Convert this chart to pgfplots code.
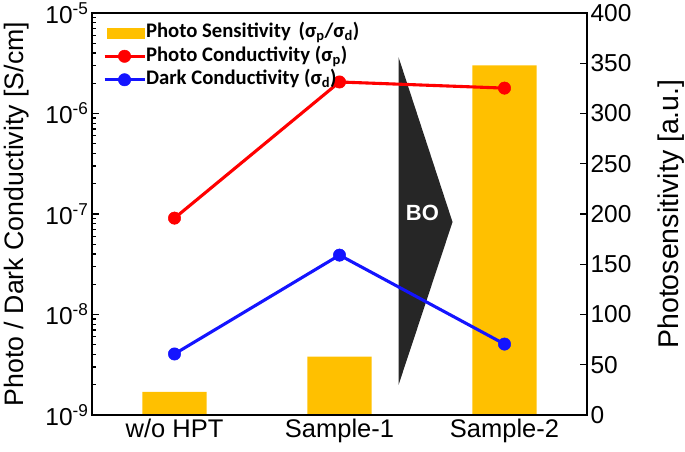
\documentclass[border=0pt]{standalone}
\usepackage{pgfplots}
\pgfplotsset{compat=1.18}
\usepackage{fontspec}
\setmainfont{Liberation Sans}
\newfontfamily\carlito{Carlito}
\definecolor{yellowc}{HTML}{FFC000}
\definecolor{redc}{HTML}{FF0000}
\definecolor{bluec}{HTML}{1414FF}
\definecolor{arrowc}{HTML}{262626}
\pgfplotsset{
  mylegline/.style={legend image code/.code={\draw[mark repeat=2,mark phase=2,##1] plot coordinates {(0pt,0pt) (20pt,0pt) (40pt,0pt)};}},
  common/.style={
    at={(0,0)}, anchor=south west,
    scale only axis, width=495pt, height=402pt,
    xmin=-0.5, xmax=2.5,
    axis line style={line width=1.8pt},
    every tick/.style={line width=1.3pt, black},
    major tick length=7pt, minor tick length=4.5pt,
    tick align=inside,
    tick label style={font=\fontsize{24.5}{28}\selectfont},
    /pgf/number format/assume math mode=true,
  }
}
\begin{document}
\begin{tikzpicture}
% bars on right (linear) axis
\begin{axis}[common,
  ymin=0, ymax=400,
  axis y line*=right,
  hide x axis,
  ytick={0,50,...,400},
  ylabel={Photosensitivity [a.u.]},
  ylabel style={at={(axis description cs:1.1697,0.5)}, anchor=center, inner sep=0pt, font=\fontsize{28.5}{32}\selectfont},
  clip=false,
]
\addplot[ybar, bar width=0.388, fill=yellowc, draw=none] coordinates {(0,23) (1,58) (2,348)};
\fill[arrowc] (axis cs:1.358,356) -- (axis cs:1.685,192) -- (axis cs:1.358,30) -- cycle;
\node[white, font=\bfseries\fontsize{22}{24}\selectfont] at (axis cs:1.503,201) {BO};
\end{axis}
% lines on left (log) axis
\begin{axis}[common,
  ymode=log, ymin=1e-9, ymax=1e-5,
  ytick={1e-9,1e-8,1e-7,1e-6,1e-5},
  yticklabels={10\textsuperscript{-9},10\textsuperscript{-8},10\textsuperscript{-7},10\textsuperscript{-6},10\textsuperscript{-5}},
  ytick pos=left,
  xtick={0,1,2},
  xticklabels={w/o HPT,Sample-1,Sample-2},
  xticklabel style={font=\fontsize{25.5}{28}\selectfont},
  xtick pos=bottom,
  major x tick style={draw=none},
  ylabel={Photo / Dark Conductivity [S/cm]},
  ylabel style={at={(axis description cs:-0.1515,0.5)}, anchor=center, inner sep=0pt, font=\fontsize{26.7}{30}\selectfont},
  legend cell align=left,
  legend style={draw=none, fill=none, at={(0,1)}, anchor=north west, xshift=11pt, yshift=-10pt,
    inner sep=0pt, outer sep=0pt,
    font=\carlito\bfseries\fontsize{20.7}{24}\selectfont, row sep=4pt,
    nodes={inner sep=0pt, text height=14.5pt, text depth=5pt},
    /tikz/every even column/.append style={column sep=5pt}},
]
\addlegendimage{legend image code/.code={\fill[yellowc] (3pt,-5pt) rectangle (40pt,5pt);}}
\addlegendentry{Photo Sensitivity\hspace{0.15em} (σ\textsubscript{p}/σ\textsubscript{d})}
\addplot[color=redc, line width=3.1pt, mark=*, mark size=6.2pt, mark options={line width=0.5pt}, mylegline] coordinates {(0,9.1e-8) (1,2.06e-6) (2,1.79e-6)};
\addlegendentry{Photo Conductivity (σ\textsubscript{p})}
\addplot[color=bluec, line width=3.1pt, mark=*, mark size=6.2pt, mark options={line width=0.5pt}, mylegline] coordinates {(0,4.05e-9) (1,3.9e-8) (2,5.08e-9)};
\addlegendentry{Dark Conductivity (σ\textsubscript{d})}
\end{axis}
\pgfresetboundingbox
\path[use as bounding box] (-92pt,-36pt) rectangle (593pt,415pt);
\end{tikzpicture}
\end{document}
